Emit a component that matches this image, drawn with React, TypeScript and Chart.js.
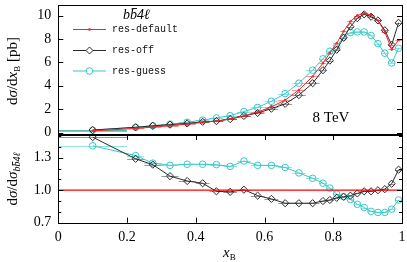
import React, { useEffect, useRef } from "react";
import { Chart, registerables } from "chart.js";
Chart.register(...registerables);

// ---- data ----
const binEdges = [0, 0.2, 0.25, 0.3, 0.35, 0.4, 0.44, 0.48, 0.52, 0.56, 0.6, 0.64, 0.68, 0.72, 0.76, 0.78, 0.8, 0.82, 0.84, 0.86, 0.88, 0.9, 0.92, 0.94, 0.96, 0.98, 1.0];
const xCenters = [0.1, 0.225, 0.275, 0.325, 0.375, 0.42, 0.46, 0.5, 0.54, 0.58, 0.62, 0.66, 0.7, 0.74, 0.77, 0.79, 0.81, 0.83, 0.85, 0.87, 0.89, 0.91, 0.93, 0.95, 0.97, 0.99];
const resDefault = [0.15, 0.35, 0.47, 0.6, 0.72, 0.87, 0.99, 1.17, 1.42, 1.76, 2.2, 2.78, 3.64, 4.8, 5.93, 6.8, 7.63, 8.65, 9.5, 10.0, 10.2, 10.05, 9.58, 8.6, 7.1, 7.9];
const resOff = [0.22, 0.45, 0.58, 0.68, 0.78, 0.92, 0.98, 1.15, 1.42, 1.68, 2.04, 2.46, 3.2, 4.22, 5.33, 6.15, 7.08, 8.1, 9.05, 9.77, 10.1, 9.9, 9.58, 8.74, 7.5, 9.38];
const resGuess = [0.21, 0.46, 0.59, 0.72, 0.88, 1.07, 1.25, 1.45, 1.8, 2.15, 2.68, 3.33, 4.22, 5.33, 6.3, 6.95, 7.35, 8.15, 8.55, 8.6, 8.6, 8.3, 7.6, 6.78, 5.95, 7.2];
const ratioDefaultX = [0, 1];
const ratioDefault = [1.0, 1.0];
const ratioOff = [1.49, 1.29, 1.236, 1.13, 1.085, 1.064, 0.99, 0.985, 1.005, 0.95, 0.92, 0.88, 0.88, 0.88, 0.9, 0.91, 0.93, 0.94, 0.95, 0.97, 0.99, 0.99, 1.0, 1.01, 1.06, 1.19];
const ratioGuess = [1.41, 1.32, 1.25, 1.23, 1.24, 1.24, 1.236, 1.22, 1.27, 1.23, 1.23, 1.21, 1.16, 1.11, 1.065, 1.02, 0.965, 0.94, 0.915, 0.87, 0.84, 0.805, 0.795, 0.795, 0.825, 0.91];

const upperYTicks = [0, 2, 4, 6, 8, 10];
const lowerYTicks = [0.7, 1.0, 1.3];
const lowerYTickLabels = ["0.7", "1.0", "1.3"];
const lowerYMinor = [0.8, 0.9, 1.1, 1.2, 1.4, 1.5];
const xTicks = [0, 0.2, 0.4, 0.6, 0.8, 1];
const xTickLabels = ["0", "0.2", "0.4", "0.6", "0.8", "1"];
const legendLabels = ["res-default", "res-off", "res-guess"];

// ---- styles ----
const SERIF = '"Liberation Serif", "DejaVu Serif", serif';
const MONO = '"Liberation Mono", "DejaVu Sans Mono", monospace';
const C_DEF = "#ff1f1f";
const C_OFF = "#2a2a2a";
const C_GUE = "#35c8c8";
const B_DEF = "rgba(255,40,40,0.5)";
const B_OFF = "rgba(30,30,30,0.45)";
const B_GUE = "rgba(40,200,200,0.5)";
const Y_W = 58.3;

const pts = (xs: number[], ys: number[]) => xs.map((x, i) => ({ x, y: ys[i] }));

type Piece = { t: string; font: string; dy?: number; bar?: number };
function richWidth(ctx: CanvasRenderingContext2D, ps: Piece[]) {
  let w = 0;
  for (const p of ps) { ctx.font = p.font; w += ctx.measureText(p.t).width; }
  return w;
}
function drawRich(ctx: CanvasRenderingContext2D, ps: Piece[], x: number, y: number) {
  let cx = x;
  for (const p of ps) {
    ctx.font = p.font;
    const w = ctx.measureText(p.t).width;
    ctx.fillText(p.t, cx, y + (p.dy || 0));
    if (p.bar) ctx.fillRect(cx + w * 0.25, y + (p.dy || 0) - p.bar, w * 0.75, 0.9);
    cx += w;
  }
}

function drawBins(chart: any, series: { ys: number[]; color: string }[]) {
  const { ctx, chartArea: a, scales } = chart;
  const x = scales.x, y = scales.y;
  ctx.save();
  ctx.beginPath();
  ctx.rect(a.left, a.top, a.right - a.left, a.bottom - a.top);
  ctx.clip();
  ctx.lineWidth = 1;
  for (const s of series) {
    ctx.strokeStyle = s.color;
    ctx.beginPath();
    s.ys.forEach((v, i) => {
      const py = Math.round(y.getPixelForValue(v)) + 0.5;
      ctx.moveTo(x.getPixelForValue(binEdges[i]), py);
      ctx.lineTo(x.getPixelForValue(binEdges[i + 1]), py);
    });
    ctx.stroke();
  }
  ctx.restore();
}

function drawFrame(chart: any) {
  const { ctx, chartArea: a } = chart;
  ctx.save();
  ctx.strokeStyle = "#000";
  ctx.lineWidth = 1;
  ctx.strokeRect(Math.round(a.left) + 0.5, Math.round(a.top) + 0.5, Math.round(a.right - a.left), Math.round(a.bottom - a.top));
  ctx.restore();
}

function yTickMarks(chart: any, vals: number[], len: number) {
  const { ctx, chartArea: a, scales } = chart;
  ctx.save();
  ctx.strokeStyle = "#000";
  ctx.lineWidth = 1;
  ctx.beginPath();
  for (const v of vals) {
    const py = Math.round(scales.y.getPixelForValue(v)) + 0.5;
    ctx.moveTo(a.left, py); ctx.lineTo(a.left + len, py);
    ctx.moveTo(a.right, py); ctx.lineTo(a.right - len, py);
  }
  ctx.stroke();
  ctx.restore();
}

const upperPlugin = {
  id: "upperDeco",
  beforeDatasetsDraw(chart: any) {
    drawBins(chart, [
      { ys: resDefault, color: B_DEF },
      { ys: resOff, color: B_OFF },
      { ys: resGuess, color: B_GUE },
    ]);
  },
  afterDraw(chart: any) {
    const ctx: CanvasRenderingContext2D = chart.ctx;
    drawFrame(chart);
    yTickMarks(chart, upperYTicks, 5);
    ctx.save();
    ctx.fillStyle = "#000";
    ctx.textBaseline = "alphabetic";
    // y title
    const it = `italic 15px ${SERIF}`, rm = `15px ${SERIF}`, sm = `9px ${SERIF}`;
    const yt: Piece[] = [
      { t: "d", font: rm }, { t: "σ", font: it }, { t: "/d", font: rm }, { t: "x", font: it },
      { t: "B", font: sm, dy: 3 }, { t: " [pb]", font: rm },
    ];
    ctx.save();
    ctx.translate(17, 71);
    ctx.rotate(-Math.PI / 2);
    drawRich(ctx, yt, -richWidth(ctx, yt) / 2, 0);
    ctx.restore();
    // legend title
    const lt = `italic 14px ${SERIF}`;
    const title: Piece[] = [
      { t: "b", font: lt }, { t: "b", font: lt, bar: 11 }, { t: "4", font: lt }, { t: "ℓ", font: lt },
    ];
    drawRich(ctx, title, 123, 19);
    // legend entries
    const rows = [29, 50, 70.5];
    const cols = [C_DEF, C_OFF, C_GUE];
    rows.forEach((ry, i) => {
      ctx.strokeStyle = cols[i];
      ctx.lineWidth = 1;
      ctx.beginPath();
      ctx.moveTo(73, ry + 0.5); ctx.lineTo(106, ry + 0.5);
      ctx.stroke();
      if (i === 0) {
        ctx.fillStyle = cols[i];
        ctx.beginPath(); ctx.arc(89.5, ry + 0.5, 1.3, 0, Math.PI * 2); ctx.fill();
      } else if (i === 1) {
        ctx.beginPath();
        ctx.moveTo(89.5, ry - 3); ctx.lineTo(93, ry + 0.5); ctx.lineTo(89.5, ry + 4); ctx.lineTo(86, ry + 0.5); ctx.closePath();
        ctx.fillStyle = "#fff"; ctx.fill(); ctx.stroke();
      } else {
        ctx.beginPath(); ctx.arc(89.5, ry + 0.5, 3.3, 0, Math.PI * 2);
        ctx.fillStyle = "#fff"; ctx.fill(); ctx.stroke();
      }
      ctx.fillStyle = "#111";
      ctx.font = `10px ${MONO}`;
      ctx.textBaseline = "middle";
      ctx.fillText(legendLabels[i], 112, ry + 0.5);
    });
    // energy label
    ctx.textBaseline = "alphabetic";
    ctx.font = `15px ${SERIF}`;
    ctx.fillStyle = "#000";
    ctx.textAlign = "center";
    ctx.fillText("8 TeV", 331, 122);
    ctx.restore();
  },
};

const lowerPlugin = {
  id: "lowerDeco",
  beforeDatasetsDraw(chart: any) {
    drawBins(chart, [
      { ys: ratioOff, color: B_OFF },
      { ys: ratioGuess, color: B_GUE },
    ]);
  },
  afterDraw(chart: any) {
    const ctx: CanvasRenderingContext2D = chart.ctx;
    const { chartArea: a, scales } = chart;
    drawFrame(chart);
    yTickMarks(chart, lowerYTicks, 5);
    yTickMarks(chart, lowerYMinor, 3);
    ctx.save();
    ctx.strokeStyle = "#000";
    ctx.beginPath();
    for (const v of xTicks.slice(1, -1)) {
      const px = Math.round(scales.x.getPixelForValue(v)) + 0.5;
      ctx.moveTo(px, a.top); ctx.lineTo(px, a.top + 5);
      ctx.moveTo(px, a.bottom); ctx.lineTo(px, a.bottom - 5);
    }
    ctx.stroke();
    ctx.fillStyle = "#000";
    ctx.textBaseline = "alphabetic";
    const it = `italic 15px ${SERIF}`, rm = `15px ${SERIF}`, si = `italic 10px ${SERIF}`;
    const yt: Piece[] = [
      { t: "d", font: rm }, { t: "σ", font: it }, { t: "/d", font: rm }, { t: "σ", font: it },
      { t: "b", font: si, dy: 3 }, { t: "b", font: si, dy: 3, bar: 8 }, { t: "4", font: si, dy: 3 }, { t: "ℓ", font: si, dy: 3 },
    ];
    ctx.save();
    ctx.translate(17, 49);
    ctx.rotate(-Math.PI / 2);
    drawRich(ctx, yt, -richWidth(ctx, yt) / 2, 0);
    ctx.restore();
    const xt: Piece[] = [{ t: "x", font: it }, { t: "B", font: `9px ${SERIF}`, dy: 3 }];
    drawRich(ctx, xt, 223, 127);
    ctx.restore();
  },
};

export default function App() {
  const topRef = useRef<HTMLCanvasElement>(null);
  const botRef = useRef<HTMLCanvasElement>(null);
  useEffect(() => {
    Chart.defaults.font.family = SERIF;
    Chart.defaults.color = "#000";
    const tickFont = { family: SERIF, size: 14 };
    const yFit = (s: any) => { s.width = Y_W; s.paddingTop = 0; s.paddingBottom = 0; };

    const c1 = new Chart(topRef.current!, {
      type: "line",
      data: {
        datasets: [
          { data: pts(xCenters, resDefault), borderColor: C_DEF, backgroundColor: C_DEF, borderWidth: 1, pointRadius: 1.2, pointStyle: "circle", pointBorderWidth: 0 },
          { data: pts(xCenters, resOff), borderColor: C_OFF, backgroundColor: "rgba(0,0,0,0)", borderWidth: 1, pointRadius: 3.6, pointStyle: "rectRot", pointBorderWidth: 1 },
          { data: pts(xCenters, resGuess), borderColor: C_GUE, backgroundColor: "rgba(0,0,0,0)", borderWidth: 1, pointRadius: 3.3, pointStyle: "circle", pointBorderWidth: 1 },
        ],
      },
      options: {
        animation: false,
        responsive: false,
        maintainAspectRatio: false,
        layout: { padding: { top: 2, right: 3, bottom: 6, left: 0 } },
        plugins: { legend: { display: false }, tooltip: { enabled: false } },
        scales: {
          x: { type: "linear", min: 0, max: 1, display: false },
          y: {
            type: "linear", min: -0.12, max: 10.9,
            afterFit: yFit,
            afterBuildTicks: (s: any) => { s.ticks = upperYTicks.map((v) => ({ value: v })); },
            grid: { display: false, drawTicks: false },
            border: { display: false },
            ticks: { padding: 7, color: "#000", font: tickFont, callback: (v: any) => String(v) },
          },
        },
      },
      plugins: [upperPlugin],
    } as any);

    const c2 = new Chart(botRef.current!, {
      type: "line",
      data: {
        datasets: [
          { data: pts(ratioDefaultX, ratioDefault), borderColor: "#ff0000", borderWidth: 1.3, pointRadius: 0 },
          { data: pts(xCenters, ratioOff), borderColor: C_OFF, backgroundColor: "rgba(0,0,0,0)", borderWidth: 1, pointRadius: 3.6, pointStyle: "rectRot", pointBorderWidth: 1 },
          { data: pts(xCenters, ratioGuess), borderColor: C_GUE, backgroundColor: "rgba(0,0,0,0)", borderWidth: 1, pointRadius: 3.3, pointStyle: "circle", pointBorderWidth: 1 },
        ],
      },
      options: {
        animation: false,
        responsive: false,
        maintainAspectRatio: false,
        layout: { padding: { top: 4, right: 3, bottom: 0, left: 0 } },
        plugins: { legend: { display: false }, tooltip: { enabled: false } },
        scales: {
          x: {
            type: "linear", min: 0, max: 1,
            afterFit: (s: any) => { s.height = 39.3; s.paddingLeft = 0; s.paddingRight = 0; },
            afterBuildTicks: (s: any) => { s.ticks = xTicks.map((v) => ({ value: v })); },
            grid: { display: false, drawTicks: false },
            border: { display: false },
            ticks: { padding: 6, color: "#000", font: tickFont, autoSkip: false, maxRotation: 0,
              callback: (v: any) => xTickLabels[xTicks.indexOf(v)] ?? "" },
          },
          y: {
            type: "linear", min: 0.7, max: 1.51,
            afterFit: yFit,
            afterBuildTicks: (s: any) => { s.ticks = lowerYTicks.map((v) => ({ value: v })); },
            grid: { display: false, drawTicks: false },
            border: { display: false },
            ticks: { padding: 7, color: "#000", font: tickFont,
              callback: (v: any) => lowerYTickLabels[lowerYTicks.indexOf(v)] ?? "" },
          },
        },
      },
      plugins: [lowerPlugin],
    } as any);

    return () => { c1.destroy(); c2.destroy(); };
  }, []);

  return (
    <div style={{ position: "fixed", left: 0, top: 0, width: 407, height: 262, background: "#fff" }}>
      <canvas ref={topRef} width={407} height={140} style={{ position: "absolute", left: 0, top: 0, width: 407, height: 140 }} />
      <canvas ref={botRef} width={407} height={132} style={{ position: "absolute", left: 0, top: 130, width: 407, height: 132 }} />
    </div>
  );
}
